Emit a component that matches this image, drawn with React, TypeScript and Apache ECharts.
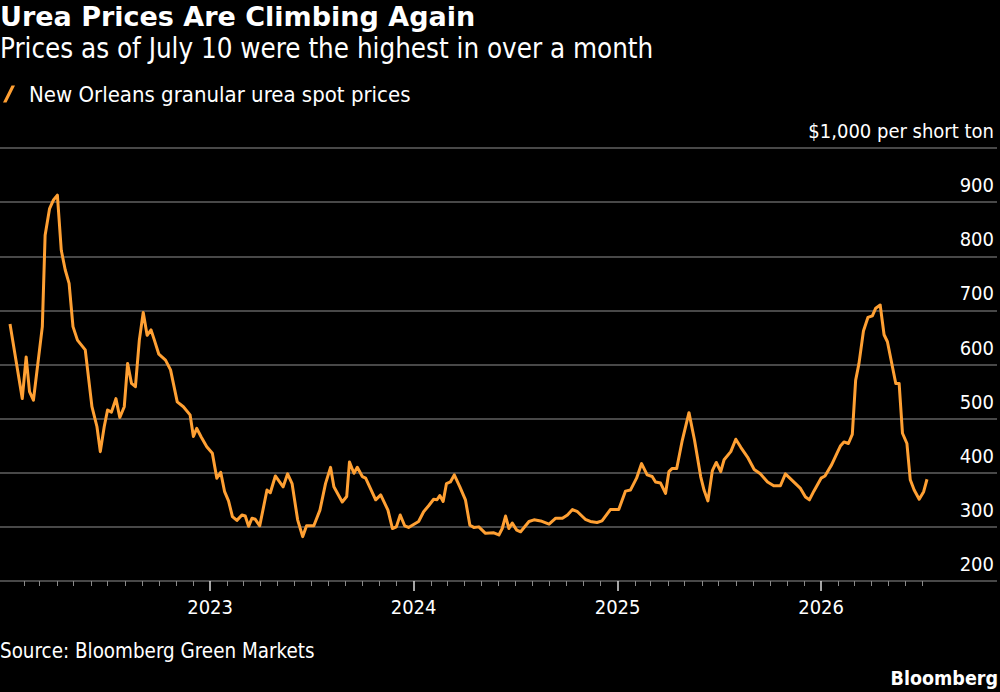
import React, { useEffect, useRef } from "react";
import * as echarts from "echarts";

// New Orleans granular urea spot prices, $ per short ton
const DATES = [
  "2022-01-07", "2022-01-29", "2022-02-05", "2022-02-11", "2022-02-18", "2022-03-06", "2022-03-11", "2022-03-19",
  "2022-03-26", "2022-04-02", "2022-04-09", "2022-04-16", "2022-04-23", "2022-04-30", "2022-05-08", "2022-05-22",
  "2022-06-03", "2022-06-12", "2022-06-18", "2022-06-25", "2022-07-01", "2022-07-08", "2022-07-16", "2022-07-23",
  "2022-07-31", "2022-08-06", "2022-08-13", "2022-08-20", "2022-08-27", "2022-09-03", "2022-09-10", "2022-09-17",
  "2022-09-23", "2022-10-01", "2022-10-13", "2022-10-22", "2022-11-03", "2022-11-14", "2022-11-26", "2022-12-02",
  "2022-12-08", "2022-12-16", "2022-12-26", "2023-01-05", "2023-01-13", "2023-01-20", "2023-01-27", "2023-02-03",
  "2023-02-10", "2023-02-18", "2023-02-27", "2023-03-05", "2023-03-11", "2023-03-17", "2023-03-23", "2023-03-31",
  "2023-04-13", "2023-04-19", "2023-04-28", "2023-05-12", "2023-05-20", "2023-05-28", "2023-06-07", "2023-06-16",
  "2023-06-23", "2023-07-06", "2023-07-17", "2023-07-27", "2023-08-05", "2023-08-11", "2023-08-26", "2023-09-03",
  "2023-09-08", "2023-09-16", "2023-09-22", "2023-10-01", "2023-10-07", "2023-10-25", "2023-11-03", "2023-11-16",
  "2023-11-24", "2023-12-01", "2023-12-08", "2023-12-16", "2023-12-23", "2024-01-10", "2024-01-19", "2024-01-28",
  "2024-02-06", "2024-02-12", "2024-02-17", "2024-02-23", "2024-02-29", "2024-03-07", "2024-03-14", "2024-03-24",
  "2024-04-03", "2024-04-11", "2024-04-18", "2024-04-27", "2024-05-09", "2024-05-24", "2024-06-02", "2024-06-08",
  "2024-06-14", "2024-06-20", "2024-06-26", "2024-07-04", "2024-07-11", "2024-07-26", "2024-08-04", "2024-08-16",
  "2024-08-31", "2024-09-12", "2024-09-24", "2024-10-03", "2024-10-12", "2024-10-21", "2024-11-04", "2024-11-13",
  "2024-11-25", "2024-12-04", "2024-12-19", "2025-01-03", "2025-01-15", "2025-01-24", "2025-02-04", "2025-02-13",
  "2025-02-23", "2025-03-04", "2025-03-10", "2025-03-19", "2025-03-28", "2025-04-03", "2025-04-09", "2025-04-17",
  "2025-04-27", "2025-05-09", "2025-05-19", "2025-05-30", "2025-06-05", "2025-06-12", "2025-06-20", "2025-06-27",
  "2025-07-05", "2025-07-11", "2025-07-23", "2025-08-01", "2025-08-10", "2025-08-22", "2025-09-03", "2025-09-14",
  "2025-09-27", "2025-10-08", "2025-10-20", "2025-10-29", "2025-11-11", "2025-11-25", "2025-12-04", "2025-12-11",
  "2025-12-19", "2026-01-01", "2026-01-08", "2026-01-20", "2026-01-29", "2026-02-05", "2026-02-11", "2026-02-19",
  "2026-02-26", "2026-03-04", "2026-03-10", "2026-03-18", "2026-03-26", "2026-04-03", "2026-04-09", "2026-04-17",
  "2026-04-24", "2026-04-30", "2026-05-15", "2026-05-21", "2026-05-27", "2026-06-04", "2026-06-10", "2026-06-17",
  "2026-06-26", "2026-07-04", "2026-07-10",
];

const PRICES = [
  675, 537, 614, 550, 534, 670, 839, 888,
  904, 913, 811, 775, 750, 670, 645, 627,
  522, 485, 439, 485, 516, 512, 537, 502,
  522, 602, 565, 559, 645, 696, 654, 664,
  645, 619, 608, 590, 531, 522, 507, 467,
  482, 466, 448, 436, 390, 401, 365, 348,
  319, 312, 322, 320, 301, 316, 314, 302,
  368, 363, 394, 374, 398, 380, 313, 282,
  302, 302, 331, 380, 410, 374, 346, 356,
  420, 399, 410, 393, 390, 350, 359, 331,
  297, 300, 322, 302, 299, 310, 328, 339,
  351, 350, 358, 347, 380, 383, 396, 374,
  350, 303, 299, 300, 288, 289, 285, 297,
  320, 297, 307, 294, 291, 310, 313, 311,
  305, 316, 316, 322, 332, 328, 314, 310,
  308, 311, 332, 332, 366, 368, 390, 417,
  396, 393, 383, 381, 362, 402, 408, 408,
  460, 511, 460, 393, 368, 348, 404, 419,
  402, 424, 439, 462, 447, 429, 406, 398,
  383, 376, 376, 398, 385, 371, 355, 350,
  366, 390, 394, 415, 435, 450, 457, 454,
  471, 571, 602, 662, 687, 690, 704, 710,
  655, 642, 565, 565, 473, 454, 387, 368,
  351, 365, 388,
];

const YEAR_LABELS = ["2023", "2024", "2025", "2026"];
const Y_MIN = 200;
const Y_MAX = 1000;
const Y_STEP = 100;
const UNIT_LABEL = "$1,000 per short ton";

const TITLE = "Urea Prices Are Climbing Again";
const SUBTITLE = "Prices as of July 10 were the highest in over a month";
const SERIES_NAME = "New Orleans granular urea spot prices";
const SOURCE = "Source: Bloomberg Green Markets";

const FONT = "'DejaVu Sans Condensed', 'DejaVu Sans', sans-serif";
const FONT_WIDE = "'DejaVu Sans', sans-serif";
const ORANGE = "#FFA033";
const GRID_GRAY = "#606060";

// local-time timestamp for a YYYY-MM-DD string
const parseDay = (s: string) => {
  const [y, m, d] = s.split("-").map(Number);
  return new Date(y, m - 1, d).getTime();
};

export default function App() {
  const ref = useRef<HTMLDivElement>(null);

  useEffect(() => {
    if (!ref.current) return;
    const chart = echarts.init(ref.current, null, { renderer: "svg" });

    const xMin = parseDay(DATES[0]);
    const xMax = parseDay(DATES[DATES.length - 1]);

    // month-start tick positions inside the data range, years excluded
    const monthTicks: number[] = [];
    for (let y = 2022; y <= 2026; y++) {
      for (let m = 1; m < 12; m++) {
        const t = new Date(y, m, 1).getTime();
        if (t >= xMin && t <= xMax) monthTicks.push(t);
      }
    }
    const yearTicks = YEAR_LABELS.map((y) => new Date(Number(y), 0, 1).getTime());
    const yearOf = (v: number) => {
      const i = yearTicks.findIndex((t) => Math.abs(t - v) < 86400000);
      return i >= 0 ? YEAR_LABELS[i] : "";
    };

    const top = 148;
    const height = 433;

    chart.setOption({
      animation: false,
      backgroundColor: "#000",
      textStyle: { fontFamily: FONT },
      title: [
        {
          text: TITLE,
          left: 0,
          top: 3,
          padding: 0,
          textStyle: { color: "#fff", fontSize: 27, fontWeight: "bold", fontFamily: FONT_WIDE },
        },
        {
          text: SUBTITLE,
          left: 0,
          top: 34,
          padding: 0,
          textStyle: { color: "#fff", fontSize: 27.5, fontWeight: "normal", fontFamily: FONT },
        },
        {
          text: SOURCE,
          left: 0,
          top: 641,
          padding: 0,
          textStyle: { color: "#fff", fontSize: 20.4, fontWeight: "normal", fontFamily: FONT },
        },
        {
          text: "Bloomberg",
          right: 2,
          top: 668,
          padding: 0,
          textStyle: { color: "#fff", fontSize: 19.5, fontWeight: "bold", fontFamily: FONT },
        },
      ],
      legend: {
        left: 3,
        top: 83,
        padding: 0,
        itemWidth: 12,
        itemHeight: 17,
        icon: "path://M0,17 L3.5,17 L12,0 L8.5,0 Z",
        textStyle: { color: "#fff", fontSize: 22, fontFamily: FONT, padding: [0, 0, 0, 9] },
        data: [SERIES_NAME],
      },
      grid: [
        { left: 0, right: 3, top, height, containLabel: false },
        { left: 10, right: 73, top, height, containLabel: false },
      ],
      xAxis: [
        { gridIndex: 0, type: "value", show: false, min: 0, max: 1 },
        {
          gridIndex: 1,
          type: "time",
          position: "bottom",
          min: xMin,
          max: xMax,
          axisLine: { show: false },
          axisTick: {
            show: true,
            length: 5,
            customValues: monthTicks,
            lineStyle: { color: "#8a8a8a", width: 1 },
          },
          axisLabel: { show: false },
          splitLine: { show: false },
        },
        {
          // year marks on a plain numeric (timestamp) scale spanning the same range
          gridIndex: 1,
          type: "value",
          position: "bottom",
          min: xMin,
          max: xMax,
          axisLine: { show: false },
          axisTick: {
            show: true,
            length: 10,
            customValues: yearTicks,
            lineStyle: { color: "#dddddd", width: 1.5 },
          },
          axisLabel: {
            show: true,
            customValues: yearTicks,
            formatter: (v: number) => yearOf(v),
            color: "#fff",
            fontSize: 20,
            fontFamily: FONT,
            margin: 16,
            showMinLabel: true,
            showMaxLabel: true,
          },
          splitLine: { show: false },
        },
      ],
      yAxis: [
        {
          gridIndex: 0,
          type: "value",
          position: "right",
          min: Y_MIN,
          max: Y_MAX,
          interval: Y_STEP,
          axisLine: { show: false },
          axisTick: { show: false },
          splitLine: { show: true, lineStyle: { color: GRID_GRAY, width: 1.5 } },
          axisLabel: {
            inside: true,
            align: "right",
            margin: 3,
            color: "#fff",
            fontSize: 20,
            fontFamily: FONT,
            verticalAlign: "bottom",
            lineHeight: 20,
            padding: [0, 0, 7, 0],
            formatter: (v: number) => (v === Y_MAX ? UNIT_LABEL : String(v)),
          },
        },
        { gridIndex: 1, type: "value", show: false, min: Y_MIN, max: Y_MAX },
      ],
      series: [
        {
          name: SERIES_NAME,
          type: "line",
          xAxisIndex: 1,
          yAxisIndex: 1,
          showSymbol: false,
          symbol: "none",
          color: ORANGE,
          lineStyle: { color: ORANGE, width: 3, join: "round" },
          data: DATES.map((d, i) => [d, PRICES[i]]),
        },
      ],
    });

    return () => chart.dispose();
  }, []);

  return (
    <div style={{ position: "fixed", left: 0, top: 0, width: 1000, height: 692, background: "#000" }}>
      <div ref={ref} style={{ width: 1000, height: 692 }} />
    </div>
  );
}
